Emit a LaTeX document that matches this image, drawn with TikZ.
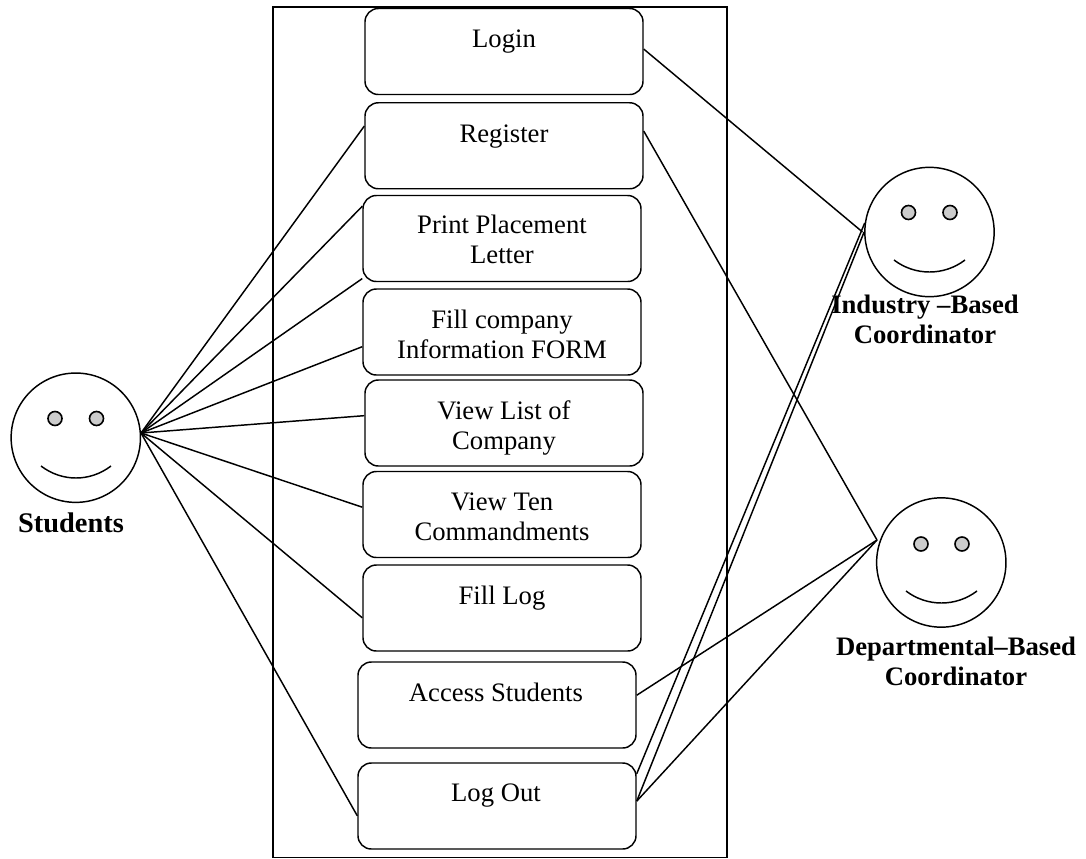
\documentclass[tikz,border=0pt]{standalone}
\usepackage{fontspec}
\setmainfont{Liberation Serif}
\usetikzlibrary{calc}
\tikzset{usecase/.style={draw, rounded corners=10pt, inner sep=0pt,
         minimum width=208.5pt, minimum height=64.5pt},
         casetext/.style={anchor=base, align=center, inner sep=0pt,
         font=\fontsize{20}{22.5}\selectfont},
         actortext/.style={anchor=base, align=center, inner sep=0pt,
         font=\fontsize{20}{22.5}\selectfont\bfseries},
         face/.style={draw, circle, inner sep=0pt, minimum size=97pt},
         eye/.style={draw, fill=eyegray, line width=1.2pt},
         smile/.style={line width=1.1pt}}
\definecolor{eyegray}{RGB}{204,204,204}

\begin{document}
\begin{tikzpicture}[x=0.75pt,y=-0.75pt,line width=1.1pt]
\useasboundingbox (0,0) rectangle (1086,858);

\draw (273,7) rectangle (727,857.5);

\node [usecase] (login) at (504,51.5) {};
\node [usecase] (register) at (504,145.75) {};
\node [usecase] (print) at (502,238.5) {};
\node [usecase] (fill) at (502,332) {};
\node [usecase] (viewlist) at (504,423) {};
\node [usecase] (viewten) at (502,514.5) {};
\node [usecase] (filllog) at (502,608) {};
\node [usecase] (access) at (497,705) {};
\node [usecase] (logout) at (497,806) {};

\node [casetext] (logintext) at (504,47) {Login};
\node [casetext] (registertext) at (504,142) {Register};
\node [casetext] (printtext) at (502,263) {Print Placement\\Letter};
\node [casetext] (filltext) at (502,358) {Fill company\\Information FORM};
\node [casetext] (viewlisttext) at (504,449) {View List of\\Company};
\node [casetext] (viewtentext) at (502,540) {View Ten\\Commandments};
\node [casetext] (filllogtext) at (502,604) {Fill Log};
\node [casetext] (accesstext) at (496,701) {Access Students};
\node [casetext] (logouttext) at (496,801) {Log Out};

% students
\node [face] (students) at (75.8,437.7) {};
\draw [eye] (55,418.5) circle (7);
\draw [eye] (96.5,418.5) circle (7);
\draw [smile] (41,466) .. controls (62,482) and (90,482) .. (111,466);
\node [actortext, font=\fontsize{21.3}{24}\selectfont\bfseries] (studentstext) at (71,532) {Students};
\coordinate (studentshub) at (141,433);

% industry
\node [face] (industry) at (929.5,232) {};
\draw [eye] (908.5,212.5) circle (7);
\draw [eye] (950,212.5) circle (7);
\draw [smile] (894,260) .. controls (915,276) and (944,276) .. (965,260);
\node [actortext] (industrytext) at (925,343) {Industry --Based\\Coordinator};
\coordinate (industryhub) at (862.5,232);

% departmental
\node [face] (departmental) at (941.3,562.5) {};
\draw [eye] (921,544) circle (7);
\draw [eye] (962,544) circle (7);
\draw [smile] (906,591) .. controls (927,607) and (956,607) .. (977,591);
\node [actortext] (departmentaltext) at (956,685) {Departmental--Based\\Coordinator};
\coordinate (departmentalhub) at (877,540);

\draw (studentshub) -- (register.172);
\draw (studentshub) -- (print.167);
\draw (studentshub) -- (print.196);
\draw (studentshub) -- (fill.186);
\draw (studentshub) -- (viewlist.177);
\draw (studentshub) -- (viewten.177);
\draw (studentshub) -- (filllog.184);
\draw (studentshub) -- (logout.184);

\draw (login.1) -- (industryhub);
\draw (logout.13) -- (industry.172);
\draw (logout.2) -- (industry.west);

\draw (register.6) -- (departmentalhub);
\draw (access.4) -- (departmentalhub);
\draw (logout.2) -- (departmentalhub);
\end{tikzpicture}
\end{document}
